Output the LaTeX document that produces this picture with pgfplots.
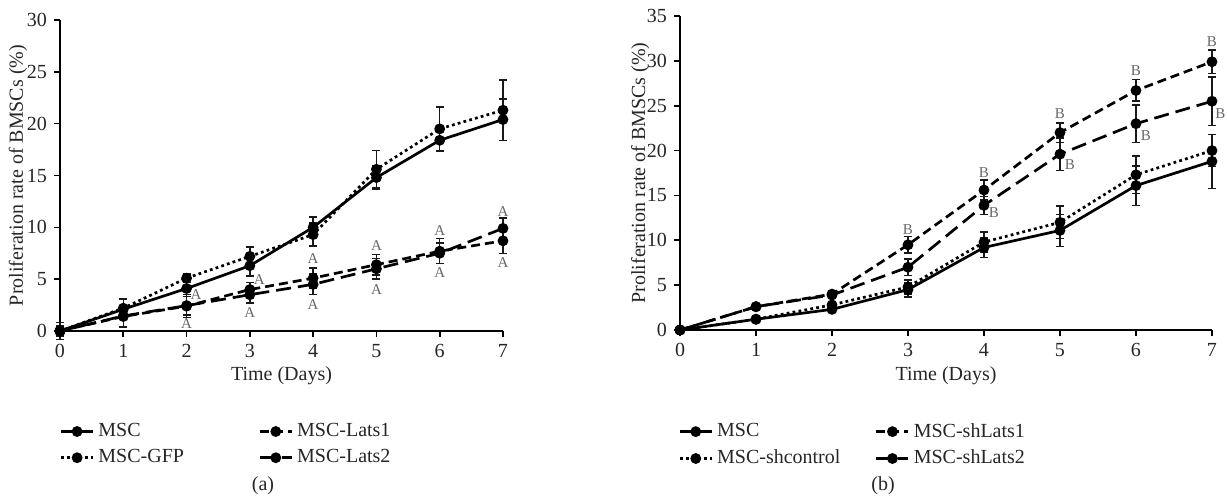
\documentclass[border=0pt]{standalone}
\usepackage{fontspec}
\setmainfont{Liberation Serif}
\usepackage{pgfplots}
\pgfplotsset{compat=1.18}
\pgfplotsset{
  prolif/.style={
    scale only axis, clip=false,
    axis lines=left, axis line style={-, line width=1.4pt},
    xmin=0, xmax=7, xtick={0,...,7}, ymin=0,
    tick align=outside, major tick length=3pt,
    tick style={line width=0.8pt, black},
    /pgf/number format/assume math mode=true,
    tick label style={font=\fontsize{10}{12}\selectfont, text=black!85},
    label style={font=\fontsize{10}{12}\selectfont, text=black!85},
    xlabel={Time (Days)},
    ylabel={Proliferation rate of BMSCs (\%)},
    x label style={at={(axis description cs:0.5,-0.145)}, anchor=center},
    legend columns=2, transpose legend,
    legend style={draw=none, fill=none, font=\fontsize{10}{12}\selectfont,
      text=black!85, anchor=north west, cells={anchor=west}, row sep=1pt},
    legend image code/.code={
      \draw[mark repeat=2, mark phase=2, #1] plot coordinates {(0pt,0pt) (8pt,0pt) (16pt,0pt)};
    },
    every axis plot/.append style={line width=1.35pt, black, mark=*, mark size=2pt, mark options={solid}},
    error bars/y dir=both, error bars/y explicit,
    error bars/error bar style={line width=0.75pt, solid, black!90},
    error bars/error mark options={rotate=90, mark size=2pt, line width=0.75pt, black!90},
  },
  dotline/.style={dash pattern=on 1.4pt off 1.6pt},
  shortdash/.style={dash pattern=on 4.5pt off 2.5pt},
  longdash/.style={dash pattern=on 7.5pt off 3.5pt},
}
\tikzset{lab/.style={font=\fontsize{7.5}{9}\selectfont, text=black!60, inner sep=0pt}}
\begin{document}
\begin{tikzpicture}[x=1pt,y=1pt]
\useasboundingbox (0,0) rectangle (613.5,-249.5);

% (a)
\begin{axis}[prolif,
  at={(30pt,-165.5pt)}, anchor=origin, width=221.5pt, height=155.5pt,
  ymax=30, ytick={0,5,...,30},
  y label style={at={(axis description cs:-0.095,0.5)}, anchor=center},
  legend style={at={(axis description cs:-0.015,-0.27)}},
]
\addplot[solid] table[x index=0, y index=1, y error index=2] {
0 0    0.8
1 2.1  1.0
2 4.1  0.6
3 6.3  1.0
4 10.0 1.0
5 14.8 1.1
6 18.4 1.1
7 20.4 2.0
};
\addlegendentry{\makebox[78pt][l]{MSC}}
\addplot[dotline] table[x index=0, y index=1, y error index=2] {
0 0    0.5
1 2.2  0.9
2 5.1  0.4
3 7.2  0.9
4 9.3  1.1
5 15.6 1.8
6 19.5 2.1
7 21.3 2.9
};
\addlegendentry{\makebox[78pt][l]{MSC-GFP}}
\addplot[shortdash] table[x index=0, y index=1, y error index=2] {
0 0    0.3
1 1.4  1.0
2 2.4  1.1
3 4.0  0.7
4 5.1  1.0
5 6.4  1.0
6 7.7  1.2
7 8.7  1.2
};
\addlegendentry{MSC-Lats1}
\addplot[longdash] table[x index=0, y index=1, y error index=2] {
0 0    0.3
1 1.45 1.0
2 2.45 0.9
3 3.5  0.8
4 4.5  1.0
5 6.0  1.0
6 7.5  1.0
7 9.9  1.0
};
\addlegendentry{MSC-Lats2}
\node[lab] at (axis cs:2.15,3.5) {A};
\node[lab] at (axis cs:2,0.7) {A};
\node[lab] at (axis cs:3.15,5.0) {A};
\node[lab] at (axis cs:3,1.8) {A};
\node[lab] at (axis cs:4,7.0) {A};
\node[lab] at (axis cs:4,2.6) {A};
\node[lab] at (axis cs:5,8.2) {A};
\node[lab] at (axis cs:5,4.0) {A};
\node[lab] at (axis cs:6,9.7) {A};
\node[lab] at (axis cs:6,5.6) {A};
\node[lab] at (axis cs:7,11.5) {A};
\node[lab] at (axis cs:7,6.6) {A};
\end{axis}

% (b)
\begin{axis}[prolif,
  at={(340pt,-165pt)}, anchor=origin, width=266pt, height=157pt,
  ymax=35, ytick={0,5,...,35},
  y label style={at={(axis description cs:-0.075,0.5)}, anchor=center},
  legend style={at={(axis description cs:-0.015,-0.27)}},
]
\addplot[solid] table[x index=0, y index=1, y error index=2] {
0 0    0.2
1 1.2  0.2
2 2.3  0.3
3 4.5  0.8
4 9.2  1.1
5 11.1 1.8
6 16.1 2.2
7 18.8 3.0
};
\addlegendentry{\makebox[77pt][l]{MSC}}
\addplot[dotline] table[x index=0, y index=1, y error index=2] {
0 0    0.2
1 1.2  0.2
2 2.8  0.3
3 4.8  0.8
4 9.8  1.1
5 12.0 1.8
6 17.3 2.1
7 20.0 1.8
};
\addlegendentry{\makebox[77pt][l]{MSC-shcontrol}}
\addplot[shortdash] table[x index=0, y index=1, y error index=2] {
0 0    0.2
1 2.6  0.3
2 4.0  0.3
3 9.5  0.9
4 15.6 1.1
5 22.0 1.1
6 26.7 1.2
7 29.9 1.3
};
\addlegendentry{MSC-shLats1}
\addplot[longdash] table[x index=0, y index=1, y error index=2] {
0 0    0.2
1 2.6  0.3
2 3.9  0.3
3 7.0  0.9
4 13.9 1.0
5 19.6 1.8
6 23.0 2.1
7 25.5 2.7
};
\addlegendentry{MSC-shLats2}
\node[lab] at (axis cs:3,11.2) {B};
\node[lab] at (axis cs:4,17.5) {B};
\node[lab] at (axis cs:4.13,13.1) {B};
\node[lab] at (axis cs:5,24.1) {B};
\node[lab] at (axis cs:5.13,18.4) {B};
\node[lab] at (axis cs:6,28.9) {B};
\node[lab] at (axis cs:6.13,21.7) {B};
\node[lab] at (axis cs:7,32.1) {B};
\node[lab] at (axis cs:7.11,24.1) {B};
\end{axis}

\node[font=\fontsize{10}{12}\selectfont, text=black!85] at (131.5,-243) {(a)};
\node[font=\fontsize{10}{12}\selectfont, text=black!85] at (441.5,-243) {(b)};
\end{tikzpicture}
\end{document}
